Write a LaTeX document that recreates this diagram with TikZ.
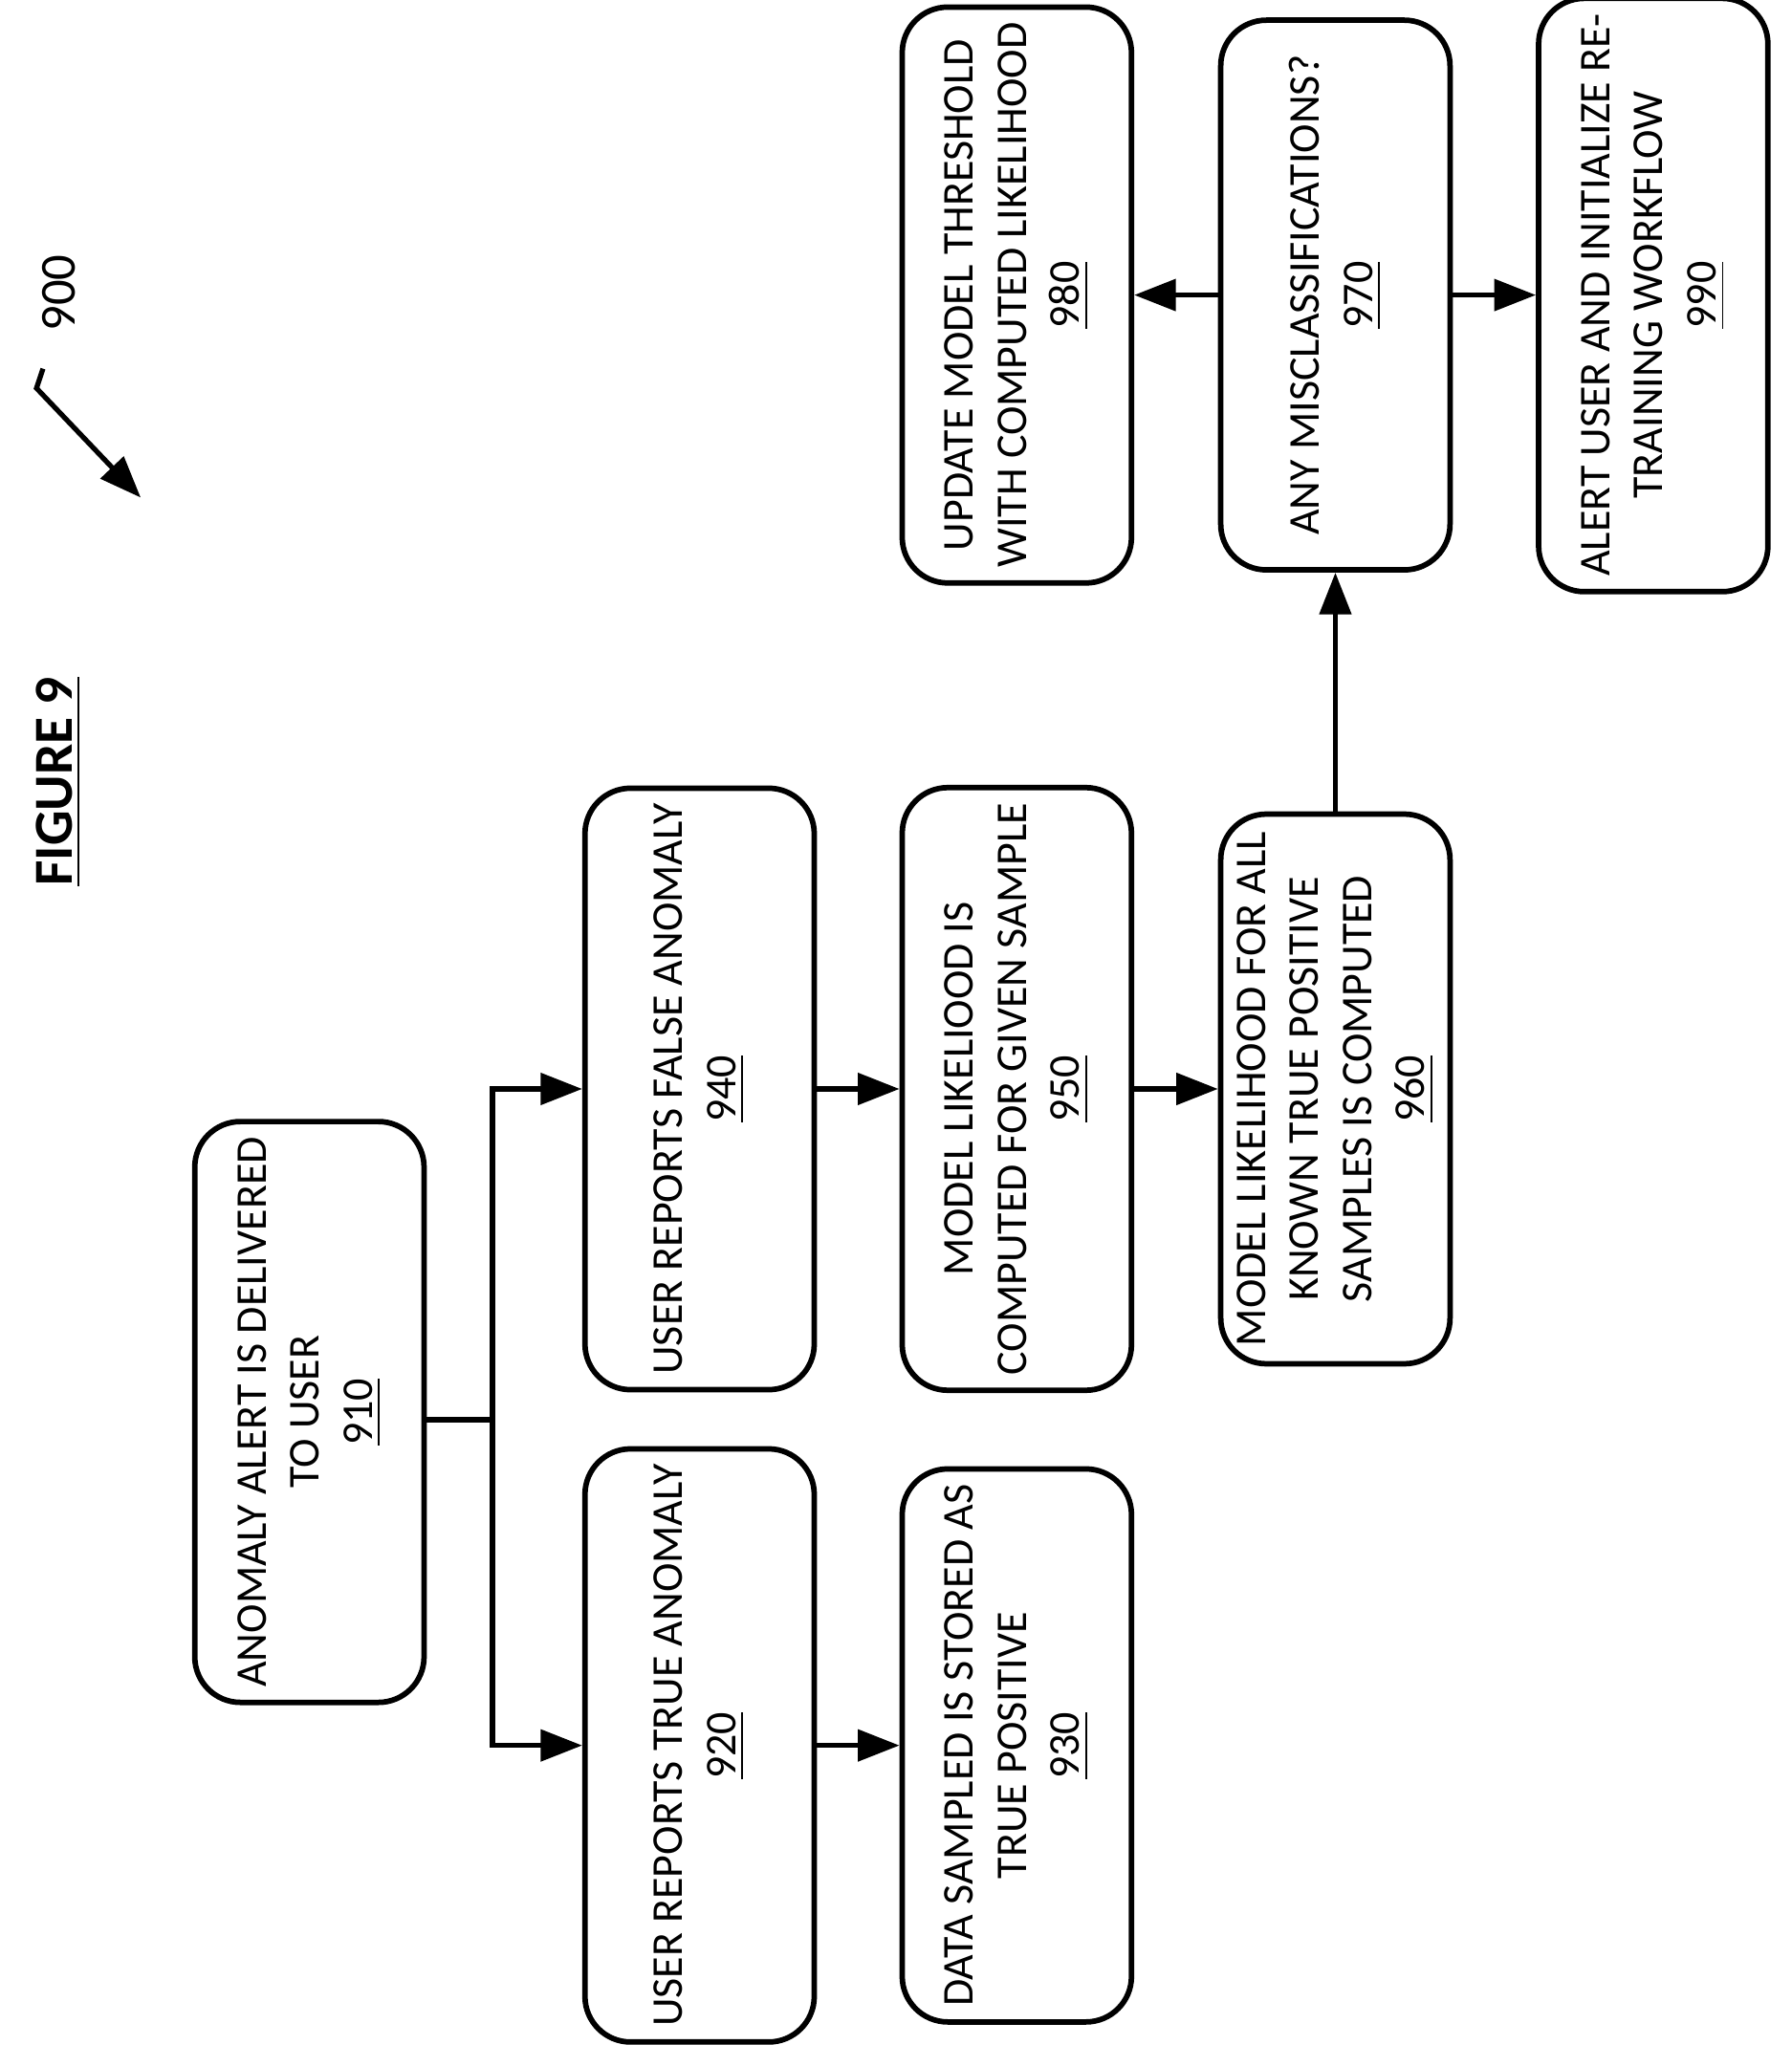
\documentclass[tikz,border=0pt]{standalone}
\usepackage{fontspec}
\setmainfont{Carlito}
\usetikzlibrary{arrows.meta,positioning,calc}

\begin{document}
\begin{tikzpicture}[
  box/.style={rectangle, draw, line width=1.2pt, rounded corners=0.35cm, rotate=90, minimum width=4.22cm, minimum height=1.76cm, align=center, font=\fontsize{9.6}{11.6}\selectfont},
  arrow/.style={-{Triangle[length=3.2mm,width=2.4mm]}, line width=1.1pt},
]
\useasboundingbox (0,0) rectangle (13.75,-15.70);

% steps
\node[box] (alert) at (2.375,-10.84) {ANOMALY ALERT IS DELIVERED\\TO USER\\\underline{910}};
\node[box] (truea) at (5.37,-13.40) {USER REPORTS TRUE ANOMALY\\\underline{920}};
\node[box] (store) at (7.805,-13.40) {DATA SAMPLED IS STORED AS\\TRUE POSITIVE\\\underline{930}};
\node[box] (falsea) at (5.37,-8.36) {USER REPORTS FALSE ANOMALY\\\underline{940}};
\node[box] (given) at (7.805,-8.36) {MODEL LIKELIOOD IS\\COMPUTED FOR GIVEN SAMPLE\\\underline{950}};
\node[box] (known) at (10.25,-8.36) {MODEL LIKELIHOOD FOR ALL\\KNOWN TRUE POSITIVE\\SAMPLES IS COMPUTED\\\underline{960}};
\node[box] (misc) at (10.25,-2.265) {ANY MISCLASSIFICATIONS?\\\underline{970}};
\node[box] (update) at (7.805,-2.265) {UPDATE MODEL THRESHOLD\\WITH COMPUTED LIKELIHOOD\\\underline{980}};
\node[box] (retrain) at (12.69,-2.265) {ALERT USER AND INITIALIZE RE-\\TRAINING WORKFLOW\\\underline{990}};

% title
\node[rotate=90, font=\bfseries\fontsize{12}{14}\selectfont] (title) at (0.45,-6.0) {\underline{FIGURE 9}};
\node[rotate=90, font=\fontsize{11}{13}\selectfont] (num) at (0.45,-2.25) {900};
\coordinate (hook) at (0.33,-2.83);
\coordinate (bend) at (0.28,-2.98);
\coordinate (tip) at (1.08,-3.82);
\draw[arrow] (hook) -- (bend) -- (tip);

% connectors
\coordinate (split) at (3.78,-10.90);
\draw[line width=1.1pt] (alert.south |- split) -- (split);
\draw[arrow] (split) |- (truea.north);
\draw[arrow] (split) |- (falsea.north);
\draw[arrow] (truea) -- (store);
\draw[arrow] (falsea) -- (given);
\draw[arrow] (given) -- (known);
\draw[arrow] (known) -- (misc);
\draw[arrow] (misc) -- (update);
\draw[arrow] (misc) -- (retrain);
\end{tikzpicture}
\end{document}
